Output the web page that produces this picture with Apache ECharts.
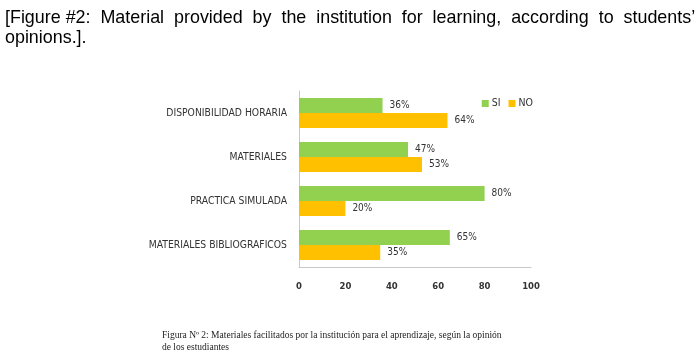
<!DOCTYPE html>
<html>
<head>
<meta charset="utf-8">
<script src="https://cdn.jsdelivr.net/npm/echarts@6/dist/echarts.min.js"></script>
<style>
  html, body { margin: 0; padding: 0; background: #fff; }
  #main { width: 700px; height: 357px; }
</style>
</head>
<body>
<div id="main"></div>
<script>
var categories = ['MATERIALES BIBLIOGRAFICOS', 'PRACTICA SIMULADA', 'MATERIALES', 'DISPONIBILIDAD HORARIA'];
var siValues = [65, 80, 47, 36];
var noValues = [35, 20, 53, 64];
var xTicks = [0, 20, 40, 60, 80, 100];

var myChart = echarts.init(document.getElementById('main'), null, {renderer: 'canvas'});

var labelStyle = {
    show: true,
    position: 'right',
    distance: 7,
    formatter: '{c}%',
    fontFamily: 'DejaVu Sans Condensed',
    fontSize: 10,
    color: '#333'
};

var option = {
    animation: false,
    color: ['#92D050', '#FFC000'],
    title: [{
        text: '[Figure #2:  Material  provided  by  the  institution  for  learning,  according  to  students’\nopinions.].',
        left: 0,
        top: 3,
        textStyle: {
            fontFamily: 'Liberation Sans',
            fontWeight: 'normal',
            fontSize: 17.9,
            lineHeight: 20,
            color: '#000'
        }
    }, {
        text: 'Figura Nº 2: Materiales facilitados por la institución para el aprendizaje, según la opinión\nde los estudiantes',
        left: 157,
        top: 324,
        textStyle: {
            fontFamily: 'Liberation Serif',
            fontWeight: 'normal',
            fontSize: 9.5,
            lineHeight: 12,
            color: '#222'
        }
    }],
    legend: {
        data: ['SI', 'NO'],
        right: 162,
        top: 93,
        itemWidth: 7,
        itemHeight: 7,
        itemGap: 8,
        icon: 'rect',
        textStyle: {fontFamily: 'DejaVu Sans Condensed', fontSize: 10.5, color: '#333', padding: [0, 0, 0, -2]}
    },
    grid: {
        left: 299,
        right: 169,
        top: 91,
        bottom: 90,
        containLabel: false
    },
    xAxis: {
        type: 'value',
        min: 0,
        max: 100,
        interval: 20,
        splitLine: {show: false},
        axisTick: {show: false},
        axisLine: {show: true, lineStyle: {color: '#c8c8c8'}},
        axisLabel: {
            margin: 15,
            fontFamily: 'DejaVu Sans',
            fontSize: 8.5,
            fontWeight: 'bold',
            color: '#333',
            formatter: function (v) { return xTicks.indexOf(v) >= 0 ? String(v) : ''; }
        }
    },
    yAxis: {
        type: 'category',
        data: categories,
        axisTick: {show: false},
        axisLine: {show: true, lineStyle: {color: '#c8c8c8'}},
        axisLabel: {
            margin: 12,
            fontFamily: 'DejaVu Sans Condensed',
            fontSize: 10.3,
            color: '#333'
        }
    },
    series: [{
        name: 'SI',
        type: 'bar',
        data: siValues,
        barWidth: 15,
        barGap: '0%',
        label: labelStyle
    }, {
        name: 'NO',
        type: 'bar',
        data: noValues,
        barWidth: 15,
        barGap: '0%',
        label: labelStyle
    }]
};

myChart.setOption(option);
</script>
</body>
</html>
